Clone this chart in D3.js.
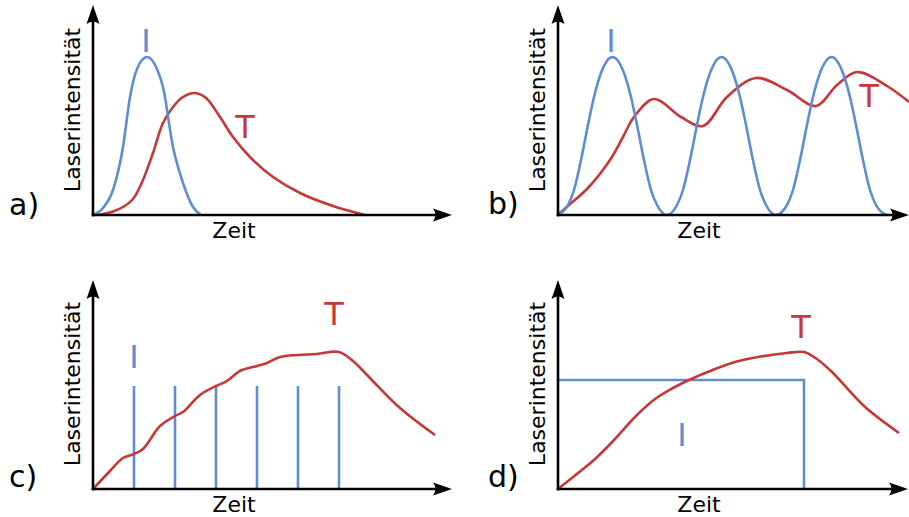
<!DOCTYPE html>
<html>
<head>
<meta charset="utf-8">
<script src="https://cdn.jsdelivr.net/npm/d3@7"></script>
<style>
  body { margin: 0; background: #fff; }
  text { font-family: "DejaVu Sans", sans-serif; }
</style>
</head>
<body>
<div id="chart"></div>
<script>
// time / intensity in arbitrary units (1 unit = 10px on screen)
var pulseA = [[0,0],[1.0,0.7],[2.0,2.5],[3.0,6.8],[3.7,11.8],[4.4,14.6],[5.4,15.8],[6.4,14.6],[7.0,12.8],
              [8.0,6.8],[9.0,3.2],[10.0,0.8],[10.8,0]];
var heatA = [[0,0],[1.0,0.1],[2.0,0.35],[3.0,0.8],[4.0,1.6],[5.0,3.5],[6.0,6.2],[7.0,9.2],[8.0,10.8],[9.0,11.8],
             [10.2,12.2],[11.3,11.7],[12.7,9.8],[14.0,7.8],[15.7,5.8],[18.0,3.8],[20.7,2.2],[24.0,0.9],[27.2,0]];

var pulseShapeB = [[0,0],[1.0,1.0],[1.6,2.5],[2.3,5.5],[3.0,9.0],[3.6,11.8],[4.3,14.2],[5.45,15.8],
                   [6.6,14.2],[7.3,11.8],[7.9,9.0],[8.6,5.5],[9.3,2.5],[9.9,1.0],[10.9,0]];
var pulseStartsB = [0, 10.9, 21.9];
var heatB = [[0,0],[1.2,1.1],[2.9,2.6],[5.2,5.5],[6.5,7.8],[7.6,9.8],[9.6,11.6],[12.3,9.8],[14.5,8.9],[16.9,11.8],
             [19.8,13.7],[22.9,12.5],[25.8,10.9],[27.9,13.0],[29.9,14.3],[32.9,12.9],[35.1,11.3]];

var pulseTimesC = [4.1, 8.2, 12.3, 16.4, 20.5, 24.6];
var pulseHeightC = 10.3;
var heatC = [[0,0],[1.7,1.8],[3.0,3.1],[4.1,3.5],[5.0,4.0],[6.7,6.3],[8.2,7.3],[9.0,7.7],[10.7,9.4],[12.3,10.3],
             [13.4,10.8],[14.7,11.8],[16.4,12.3],[17.4,12.6],[18.7,13.2],[20.5,13.4],[22.4,13.5],[24.6,13.7],
             [26.0,12.8],[27.4,11.4],[30.7,8.1],[34.2,5.4]];

var pulseD = [[0,10.9],[24.6,10.9],[24.6,0]];
var heatD = [[0,0],[1.7,1.35],[3.7,3.0],[5.7,5.0],[7.7,7.2],[9.7,9.0],[11.5,10.1],[13.1,10.9],[15.7,12.0],
             [17.7,12.7],[20.0,13.2],[22.9,13.6],[24.6,13.7],[25.6,13.2],[27.3,11.8],[30.6,8.3],[34.1,5.6]];

var xLabel = 'Zeit', yLabel = 'Laserintensität';

var blue = '#5f8dd3', red = '#c83737';
var width = 909, height = 517;

var svg = d3.select('#chart').append('svg')
  .attr('width', width)
  .attr('height', height);

// panel layout (pixels)
var panels = [
  {tag: 'a)', ox: 93,  oy: 215, tipX: 452, tipY: 5,   tagX: 9,   tagY: 215, iX: 146, iY: 52,  tX: 245, tY: 138},
  {tag: 'b)', ox: 558, oy: 215, tipX: 909, tipY: 5,   tagX: 488, tagY: 214, iX: 611, iY: 52,  tX: 869, tY: 107},
  {tag: 'c)', ox: 93,  oy: 489, tipX: 452, tipY: 280, tagX: 9,   tagY: 487, iX: 134, iY: 368, tX: 334, tY: 325},
  {tag: 'd)', ox: 558, oy: 489, tipX: 908, tipY: 280, tagX: 488, tagY: 487, iX: 682, iY: 446, tX: 801, tY: 338}
];

function drawPanel(p, draw) {
  var g = svg.append('g');
  var x = d3.scaleLinear().domain([0, (p.tipX - p.ox) / 10]).range([p.ox, p.tipX]);
  var y = d3.scaleLinear().domain([0, (p.oy - p.tipY) / 10]).range([p.oy, p.tipY]);
  var pulseLine = d3.line()
    .x(function (d) { return x(d[0]); })
    .y(function (d) { return y(d[1]); })
    .curve(d3.curveMonotoneX);
  var heatLine = d3.line()
    .x(function (d) { return x(d[0]); })
    .y(function (d) { return y(d[1]); })
    .curve(d3.curveCatmullRom.alpha(0.5));

  draw(g, x, y, pulseLine, heatLine);

  // axes without ticks
  g.append('g')
    .attr('transform', 'translate(0,' + p.oy + ')')
    .call(d3.axisBottom(x).tickValues([]).tickSizeOuter(0))
    .select('.domain').attr('stroke', '#000').attr('stroke-width', 2.6)
    .attr('d', 'M' + (p.ox - 1.3) + ',0H' + (p.tipX - 10));
  g.append('g')
    .attr('transform', 'translate(' + p.ox + ',0)')
    .call(d3.axisLeft(y).tickValues([]).tickSizeOuter(0))
    .select('.domain').attr('stroke', '#000').attr('stroke-width', 2.6)
    .attr('d', 'M0,' + (p.oy + 1.3) + 'V' + (p.tipY + 10));

  var head = 'M0,0L-19,-6.5Q-14,0 -19,6.5Z';
  g.append('path').attr('d', head).attr('fill', '#000')
    .attr('transform', 'translate(' + x.range()[1] + ',' + p.oy + ')');
  g.append('path').attr('d', head).attr('fill', '#000')
    .attr('transform', 'translate(' + p.ox + ',' + y.range()[1] + ') rotate(-90)');

  g.append('text').attr('x', p.tagX).attr('y', p.tagY)
    .attr('font-size', 30).text(p.tag);
  g.append('text').attr('x', (p.ox + 141)).attr('y', p.oy + 23)
    .attr('text-anchor', 'middle').attr('font-size', 22).text(xLabel);
  g.append('text')
    .attr('transform', 'translate(' + (p.ox - 13) + ',' + (p.oy - 105) + ') rotate(-90)')
    .attr('text-anchor', 'middle').attr('font-size', 22).text(yLabel);
  g.append('text').attr('x', p.iX).attr('y', p.iY)
    .attr('text-anchor', 'middle').attr('font-size', 32).attr('fill', blue).text('I');
  g.append('text').attr('x', p.tX).attr('y', p.tY)
    .attr('text-anchor', 'middle').attr('font-size', 32).attr('fill', red).text('T');
}

function curve(g, line, data, color) {
  g.append('path').datum(data)
    .attr('d', line)
    .attr('fill', 'none')
    .attr('stroke', color)
    .attr('stroke-width', 2.6);
}

// a) single pulse
drawPanel(panels[0], function (g, x, y, pulseLine, heatLine) {
  curve(g, heatLine, heatA, red);
  curve(g, pulseLine, pulseA, blue);
});

// b) pulse train
drawPanel(panels[1], function (g, x, y, pulseLine, heatLine) {
  curve(g, heatLine, heatB, red);
  var train = [];
  pulseStartsB.forEach(function (s, i) {
    pulseShapeB.forEach(function (d, j) {
      if (i > 0 && j === 0) return;
      train.push([s + d[0], d[1]]);
    });
  });
  curve(g, pulseLine, train, blue);
});

// c) short pulses
drawPanel(panels[2], function (g, x, y, pulseLine, heatLine) {
  g.selectAll('line.pulse').data(pulseTimesC)
    .enter().append('line')
    .attr('x1', function (d) { return x(d); })
    .attr('x2', function (d) { return x(d); })
    .attr('y1', y(0))
    .attr('y2', y(pulseHeightC))
    .attr('stroke', blue)
    .attr('stroke-width', 2.6);
  curve(g, heatLine, heatC, red);
});

// d) continuous wave
drawPanel(panels[3], function (g, x, y, pulseLine, heatLine) {
  g.append('path').datum(pulseD)
    .attr('d', d3.line().x(function (d) { return x(d[0]); }).y(function (d) { return y(d[1]); }))
    .attr('fill', 'none')
    .attr('stroke', blue)
    .attr('stroke-width', 2.6);
  curve(g, heatLine, heatD, red);
});
</script>
</body>
</html>
